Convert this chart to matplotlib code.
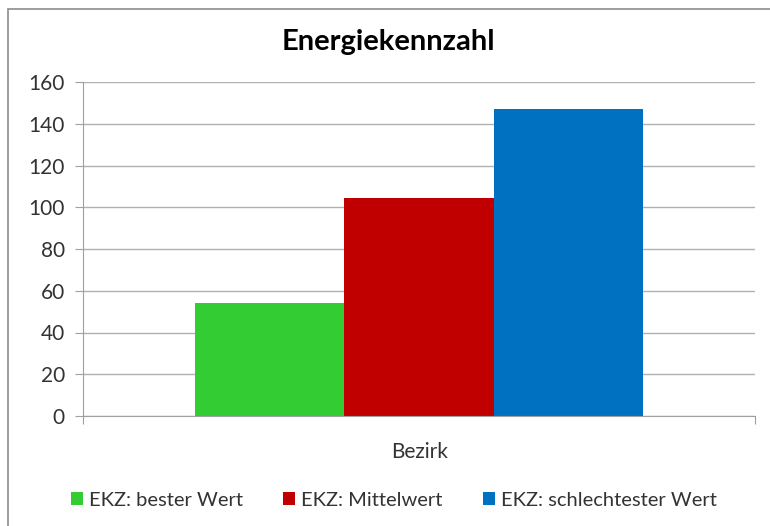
import matplotlib.pyplot as plt
from matplotlib.patches import Rectangle

plt.rcParams['font.family'] = ['Lato', 'DejaVu Sans']

category = 'Bezirk'
series = ['EKZ: bester Wert', 'EKZ: Mittelwert', 'EKZ: schlechtester Wert']
values = [54, 104.3, 147.2]
colors = ['#33cc33', '#c00000', '#0070c0']
yticks = [0, 20, 40, 60, 80, 100, 120, 140, 160]

fig = plt.figure(figsize=(7.7, 5.26), dpi=100)
ax = fig.add_axes([83 / 770, 1 - 416 / 526, 672 / 770, 334 / 526])

# chart border (only left/top edges visible in the original)
fig.patches.append(Rectangle((8 / 770, -0.1), 1.2, 1 - 9 / 526 + 0.1,
                             transform=fig.transFigure, fill=False,
                             edgecolor='#8c8c8c', linewidth=1.2))

width = 1 / 4.5
for i, (name, val, col) in enumerate(zip(series, values, colors)):
    ax.bar((i - 1) * width, val, width=width, color=col, label=name)

ax.set_xlim(-0.5, 0.5)
ax.set_ylim(0, 160)
ax.set_yticks(yticks)
ax.yaxis.grid(True, color='#b0b0b0', linewidth=1)
ax.set_axisbelow(True)
ax.set_xticks([-0.5, 0.5])
ax.set_xticklabels(['', ''])
ax.tick_params(axis='x', direction='out', length=6, color='#a0a0a0')
ax.tick_params(axis='y', direction='out', length=6, color='#a0a0a0',
               labelsize=15, labelcolor='#333333', pad=7)
for s in ['top', 'right']:
    ax.spines[s].set_visible(False)
for s in ['left', 'bottom']:
    ax.spines[s].set_color('#a0a0a0')

fig.text(420 / 770, 1 - 452 / 526, category, ha='center', va='center',
         fontsize=15, color='#333333')
fig.text(388 / 770, 1 - 42 / 526, 'Energiekennzahl', ha='center', va='center',
         fontsize=21, fontweight='bold', color='black')

fig.legend(loc='center', bbox_to_anchor=(394 / 770, 1 - 500 / 526), ncol=3,
           frameon=False, fontsize=14.5, handlelength=0.6, handleheight=0.6,
           handletextpad=0.3, columnspacing=2.0, labelcolor='#333333')

fig.savefig('out.png', dpi=100)
